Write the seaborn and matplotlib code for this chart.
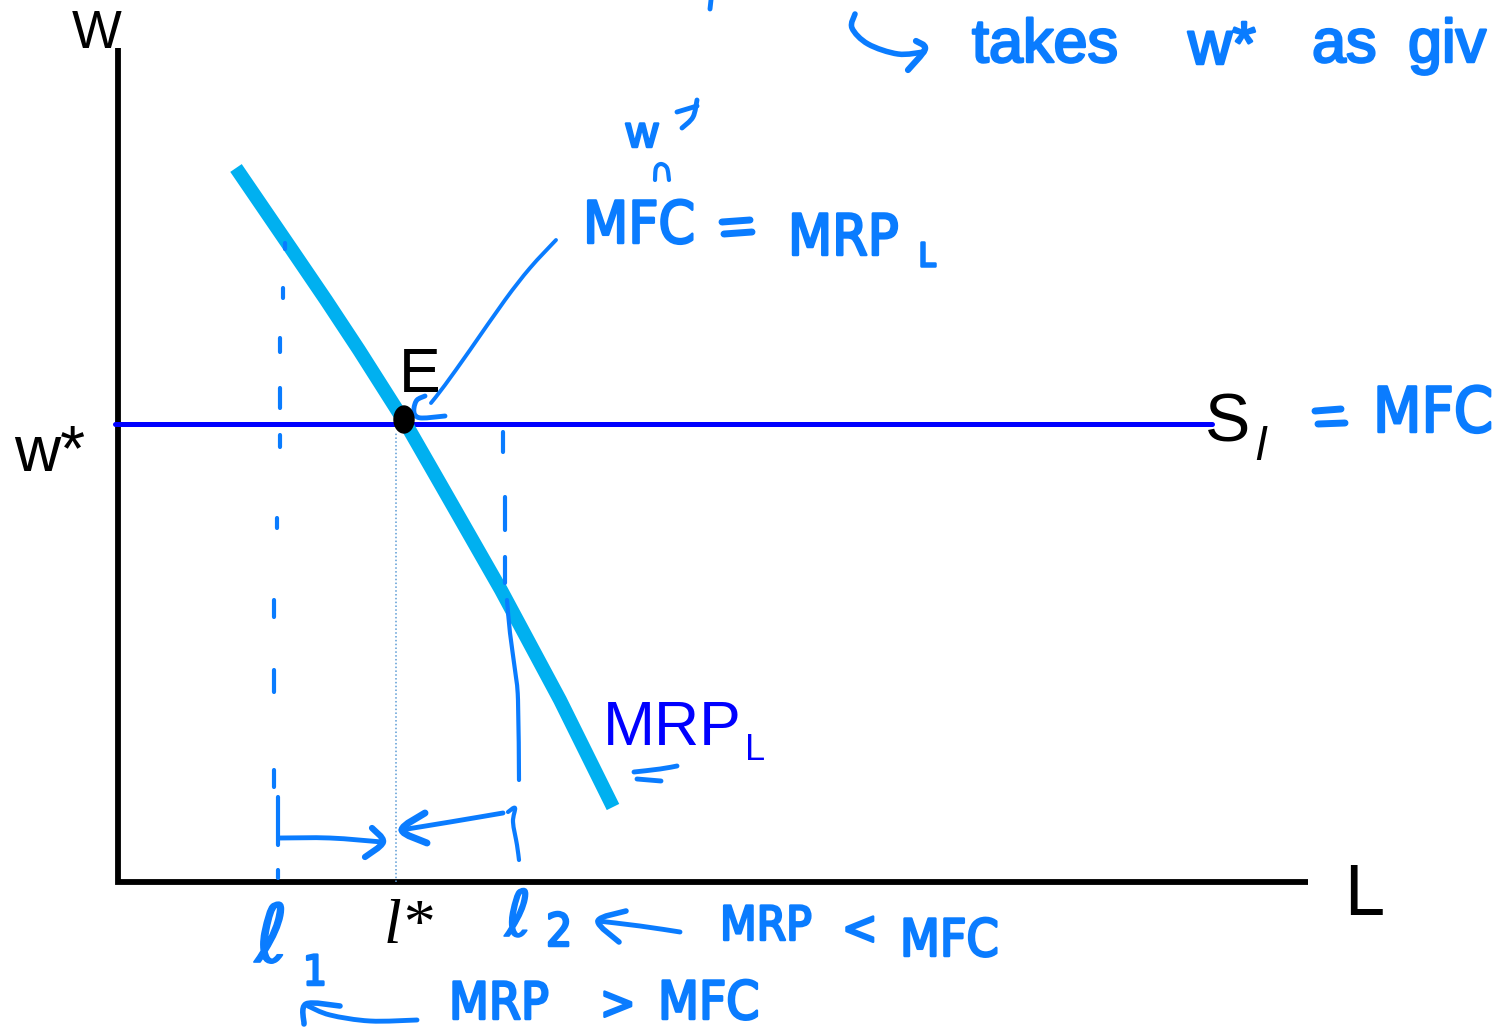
import numpy as np
import matplotlib
matplotlib.use("Agg")
import matplotlib.pyplot as plt
import seaborn as sns
from matplotlib.path import Path
from matplotlib.patches import PathPatch, Ellipse
from matplotlib import patheffects as pe
from matplotlib import font_manager

# ---- data -------------------------------------------------------------
# Marginal revenue product of labour (L, w)
mrp_L = [1.18, 1.74, 2.08, 2.41, 2.88, 3.23, 3.83, 4.42, 4.95]
mrp_w = [7.14, 6.32, 5.82, 5.32, 4.58, 3.97, 2.92, 1.82, 0.75]

w_star = 4.58            # market wage = labour supply = MFC
supply_L = [-0.03, 10.94]
E_point = (2.86, 4.625)  # equilibrium dot
l_star = 2.78
l_1 = 1.61
l_2 = 3.89
L_axis_end = 11.90
w_axis_top = 8.34

# ---- style ------------------------------------------------------------
sns.set_theme(style="white")
plt.rcParams["font.family"] = ["Liberation Sans", "DejaVu Sans"]
plt.rcParams["text.color"] = "black"

condensed = any(f.name == "DejaVu Sans" and f.stretch == "condensed"
                for f in font_manager.fontManager.ttflist)
HAND_FONT = ["DejaVu Sans"] if condensed else ["Liberation Sans", "DejaVu Sans"]
HAND_STRETCH = "condensed" if condensed else "normal"

HAND = "#0a7cff"
MRP_COLOR = "#00b0f0"
SUPPLY_COLOR = "#0000ff"
DOT_COLOR = "#5b9bd5"

fig = plt.figure(figsize=(15.11, 10.30), dpi=100)
ax = fig.add_axes([0, 0, 1, 1])
ax.set_xlim(-1.18, 13.93)
ax.set_ylim(-1.48, 8.82)
ax.axis("off")

X0, Y0, S = 118, 882, 100.0


def P(px, py):
    """Canvas position (pixels from top-left) -> axis units."""
    return ((px - X0) / S, (Y0 - py) / S)


def smooth_path(pts):
    pts = np.array([P(*p) for p in pts], dtype=float)
    verts, codes = [pts[0]], [Path.MOVETO]
    if len(pts) == 2:
        return Path(pts, [Path.MOVETO, Path.LINETO])
    for i in range(len(pts) - 1):
        p0 = pts[i - 1] if i > 0 else pts[i]
        p1, p2 = pts[i], pts[i + 1]
        p3 = pts[i + 2] if i + 2 < len(pts) else pts[i + 1]
        verts += [p1 + (p2 - p0) / 6, p2 - (p3 - p1) / 6, p2]
        codes += [Path.CURVE4] * 3
    return Path(verts, codes)


def stroke(pts, lw=3.0, color=HAND):
    ax.add_patch(PathPatch(smooth_path(pts), fill=False, edgecolor=color,
                           lw=lw, capstyle="round", joinstyle="round", zorder=6))


def hand_text(px, py, s, size, family=None, stretch=None, thick=1.8):
    x, y = P(px, py)
    ax.text(x, y, s, color=HAND, fontsize=size,
            family=family or HAND_FONT, fontstretch=stretch or HAND_STRETCH,
            ha="left", va="baseline", zorder=7,
            path_effects=[pe.withStroke(linewidth=thick, foreground=HAND,
                                        capstyle="round", joinstyle="round")])


# ---- axes -------------------------------------------------------------
ax.plot([0, 0, L_axis_end], [w_axis_top, 0, 0], color="black", lw=4.2,
        solid_joinstyle="miter", solid_capstyle="butt", zorder=3)

# ---- curves -----------------------------------------------------------
sns.lineplot(x=supply_L, y=[w_star, w_star], color=SUPPLY_COLOR, lw=3.6,
             ax=ax, sort=False, zorder=4)
sns.lineplot(x=mrp_L, y=mrp_w, color=MRP_COLOR, lw=10, ax=ax, sort=False,
             zorder=5)
ax.lines[-1].set_solid_capstyle("butt")
ax.lines[-1].set_solid_joinstyle("round")

ax.plot([l_star, l_star], [0, E_point[1] - 0.12], color=DOT_COLOR, lw=1.1,
        ls=(0, (1, 1.5)), zorder=4)
ax.add_patch(Ellipse(E_point, 0.20, 0.27, color="black", zorder=8))

# ---- printed labels ---------------------------------------------------
ax.text(*P(97, 48), "W", fontsize=38, ha="center", va="baseline")
ax.text(*P(14, 471), "w*", fontsize=46, ha="left", va="baseline")
ax.text(*P(399, 392), "E", fontsize=45, ha="left", va="baseline")
ax.text(*P(1205, 441), "S", fontsize=49, ha="left", va="baseline")
ax.text(*P(1255, 460), "l", fontsize=34, style="italic", ha="left", va="baseline")
ax.text(*P(1344, 915), "L", fontsize=52, ha="left", va="baseline")
ax.text(*P(603, 745), "MRP", fontsize=45, color=SUPPLY_COLOR, ha="left", va="baseline")
ax.text(*P(745, 760), "L", fontsize=26, color=SUPPLY_COLOR, ha="left", va="baseline")
ax.text(*P(384, 943), "l*", fontsize=46, style="italic",
        family=["Liberation Serif", "DejaVu Serif"], ha="left", va="baseline")

# ---- handwritten notes ------------------------------------------------
# top line: "takes w* as giv..."
stroke([(711, 0), (710, 9)], lw=3.5)
stroke([(855, 14), (852, 28), (868, 44), (898, 54), (924, 52)], lw=4)
stroke([(916, 41), (925, 49), (908, 70)], lw=4.5)
hand_text(972, 62, "takes", 44, family=["Liberation Sans"], stretch="normal")
hand_text(1188, 64, "w*", 44, family=["Liberation Sans"], stretch="normal")
hand_text(1312, 62, "as", 44, family=["Liberation Sans"], stretch="normal")
hand_text(1408, 62, "giv", 44, family=["Liberation Sans"], stretch="normal")

# "w*" written above MFC with a ditto mark
hand_text(626, 147, "w", 32, family=["Liberation Sans"], stretch="normal")
stroke([(677, 112), (697, 106)], lw=3.5)
stroke([(697, 100), (693, 117), (682, 128)], lw=3.5)
stroke([(655, 180), (656, 168), (661, 164), (667, 168), (669, 180)], lw=3)

# "MFC = MRP_L" and the leader to E
hand_text(583, 243, "MFC", 42)
stroke([(722, 222), (750, 220)], lw=5)
stroke([(724, 234), (752, 232)], lw=5)
hand_text(788, 255, "MRP", 41)
hand_text(918, 266, "L", 24)
stroke([(556, 240), (530, 268), (505, 300), (470, 350), (445, 385), (431, 403)], lw=2.8)
stroke([(425, 396), (417, 400), (414, 408), (415, 415), (422, 418), (445, 416)], lw=3.5)

# "= MFC" next to the supply curve
stroke([(1315, 411), (1341, 409)], lw=5)
stroke([(1318, 424), (1345, 423)], lw=5)
hand_text(1373, 432, "MFC", 45)

# double underline beneath MRP_L
stroke([(634, 772), (660, 769), (677, 766)], lw=3.5)
stroke([(637, 779), (661, 781)], lw=3.5)

# dashed guide at l1
l1_px = X0 + l_1 * S
l1_dashes = [(243, 249, 6), (288, 298, 4), (338, 352, 1), (388, 408, 1),
             (435, 447, 1), (518, 528, -2), (600, 617, -5), (670, 692, -5),
             (770, 787, -5), (797, 845, -1), (870, 878, -1)]
for y0, y1, dx in l1_dashes:
    stroke([(l1_px + dx, y0), (l1_px + dx, y1)], lw=3.0)

# dashed guide at l2
l2_px = X0 + l_2 * S
for y0, y1, dx in [(432, 452, -4), (497, 530, -2), (557, 583, -2)]:
    stroke([(l2_px + dx, y0), (l2_px + dx, y1)], lw=3.0)
stroke([(l2_px, 600), (l2_px + 3, 633), (l2_px + 8, 670), (l2_px + 11, 700),
        (l2_px + 12, 780)], lw=3.0)
stroke([(l2_px + 1, 812), (l2_px + 8, 808), (l2_px + 6, 822), (l2_px + 10, 845),
        (l2_px + 12, 860)], lw=3.0)

# arrows pointing to l*
ls_px = X0 + l_star * S
stroke([(l1_px + 1, 838), (330, 838), (ls_px - 14, 842)], lw=3.5)
stroke([(ls_px - 24, 828), (ls_px - 13, 842), (ls_px - 31, 857)], lw=4.5)
stroke([(l2_px - 4, 813), (450, 822), (ls_px + 5, 830)], lw=3.5)
stroke([(ls_px + 29, 813), (ls_px + 6, 830), (ls_px + 31, 843)], lw=5)

# labels l1, l2 and the two inequalities
hand_text(255, 962, "ℓ", 58, family=["DejaVu Sans"], stretch="normal", thick=1.2)
hand_text(303, 985, "1", 30)
hand_text(505, 936, "ℓ", 46, family=["DejaVu Sans"], stretch="normal", thick=1.2)
hand_text(546, 946, "2", 33)

stroke([(680, 932), (640, 926), (598, 921)], lw=3.5)
stroke([(626, 911), (598, 921), (619, 942)], lw=4)
hand_text(720, 940, "MRP", 34)
hand_text(842, 944, "<", 34)
hand_text(900, 956, "MFC", 37)

stroke([(417, 1020), (370, 1021), (330, 1015), (308, 1006)], lw=3.5)
stroke([(340, 1006), (306, 1004), (304, 1024)], lw=4)
hand_text(449, 1019, "MRP", 37)
hand_text(600, 1019, ">", 34)
hand_text(658, 1019, "MFC", 38)

fig.savefig("out.png", dpi=100, facecolor="white")
